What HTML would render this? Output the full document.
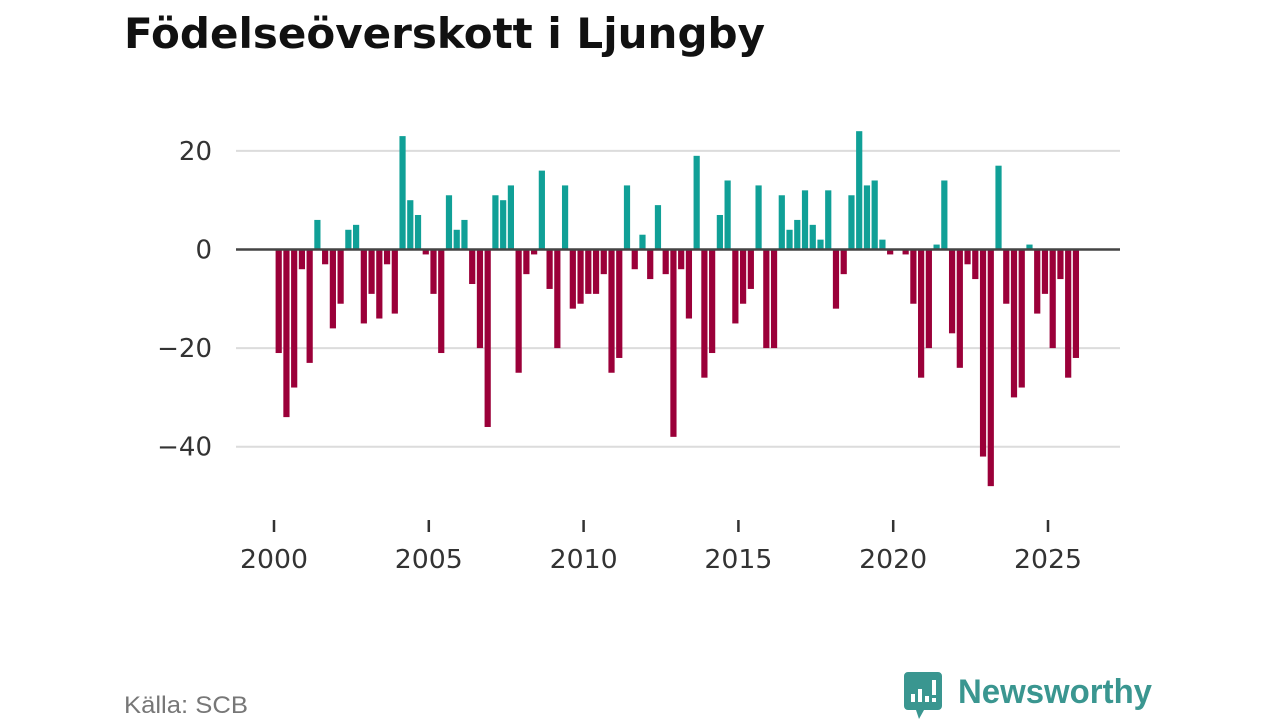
<!DOCTYPE html>
<html><head><meta charset="utf-8"><style>
html,body{margin:0;padding:0;background:#fff;width:1280px;height:720px;overflow:hidden}
svg{display:block}
</style></head><body>
<svg id="chart" width="1280" height="720" xmlns="http://www.w3.org/2000/svg" font-family="'Liberation Sans', 'DejaVu Sans', sans-serif">
<text x="124" y="48" font-size="42" font-weight="bold" fill="#111" font-family="'DejaVu Sans', sans-serif" textLength="641" lengthAdjust="spacingAndGlyphs">Födelseöverskott i Ljungby</text>
<g id="grid"></g>
<g id="bars"></g>
<g id="xaxis"></g>
<text x="124" y="713" font-size="24" fill="#777" textLength="124" lengthAdjust="spacingAndGlyphs">Källa: SCB</text>
<g>
<path d="M908 672 h30 a4 4 0 0 1 4 4 v30 a4 4 0 0 1 -4 4 h-14 l-5 9 l-3 -9 h-8 a4 4 0 0 1 -4 -4 v-30 a4 4 0 0 1 4 -4z" fill="#3a9690"/>
<rect x="911" y="694" width="4" height="8" fill="#fff"/>
<rect x="918" y="689" width="4" height="13" fill="#fff"/>
<rect x="925" y="696" width="4" height="6" fill="#fff"/>
<rect x="932" y="680" width="4" height="15" fill="#fff"/>
<rect x="932" y="698" width="4" height="4" fill="#fff"/>
<text x="958" y="703" font-size="34" font-weight="bold" fill="#3a9690" textLength="194" lengthAdjust="spacingAndGlyphs">Newsworthy</text>
</g>
</svg>
<script>
const years = [2000,2001,2002,2003,2004,2005,2006,2007,2008,2009,2010,2011,2012,2013,2014,2015,2016,2017,2018,2019,2020,2021,2022,2023,2024,2025];
const quarterlyValues = [
-21,-34,-28,-4, -23,6,-3,-16, -11,4,5,-15, -9,-14,-3,-13,
23,10,7,-1, -9,-21,11,4, 6,-7,-20,-36, 11,10,13,-25,
-5,-1,16,-8, -20,13,-12,-11, -9,-9,-5,-25, -22,13,-4,3,
-6,9,-5,-38, -4,-14,19,-26, -21,7,14,-15, -11,-8,13,-20,
-20,11,4,6, 12,5,2,12, -12,-5,11,24, 13,14,2,-1,
0,-1,-11,-26, -20,1,14,-17, -24,-3,-6,-42, -48,17,-11,-30,
-28,1,-13,-9, -20,-6,-26,-22];
const yTicks = [20,0,-20,-40];
const yTickLabels = ["20","0","\u221220","\u221240"];
const xTicks = [2000,2005,2010,2015,2020,2025];

const NS="http://www.w3.org/2000/svg";
function xScale(t){return 274+(t-2000)*30.96;}
function yScale(v){return 249.5-v*4.93;}
function mk(tag,attrs,parent){const e=document.createElementNS(NS,tag);for(const k in attrs)e.setAttribute(k,attrs[k]);parent.appendChild(e);return e;}

const grid=document.getElementById('grid');
yTicks.forEach((v,i)=>{
  if(v!==0){
    const l=mk('line',{x1:236,x2:1120,y1:yScale(v),y2:yScale(v),stroke:'#dcdcdc','stroke-width':2},grid);
    
    
  }
  const t=mk('text',{x:212,y:yScale(v)+9,'text-anchor':'end','font-size':26,fill:'#333','font-family':"'DejaVu Sans', sans-serif"},grid);
  t.textContent=yTickLabels[i];
  
  
});

const bars=document.getElementById('bars');
quarterlyValues.forEach((v,i)=>{
  if(v===0)return;
  const t=years[0]+i/4;
  const x=xScale(t)+1.6;
  const y0=yScale(0),y1=yScale(v);
  const r=mk('rect',{x:x,y:Math.min(y0,y1),width:6.2,height:Math.abs(y1-y0),fill:v>0?'#10a097':'#9b0039'},bars);
  
  
});
const zl=mk('line',{x1:236,x2:1120,y1:yScale(0),y2:yScale(0),stroke:'#444','stroke-width':2.5},bars);



const xa=document.getElementById('xaxis');
xTicks.forEach(yr=>{
  const x=xScale(yr);
  const tk=mk('line',{x1:x,x2:x,y1:520,y2:532,stroke:'#333','stroke-width':2.5},xa);
  
  
  const t=mk('text',{x:x,y:568,'text-anchor':'middle','font-size':26,fill:'#333','font-family':"'DejaVu Sans', sans-serif",textLength:68,lengthAdjust:'spacingAndGlyphs'},xa);
  t.textContent=String(yr);
  
  
});
</script>
</body></html>
